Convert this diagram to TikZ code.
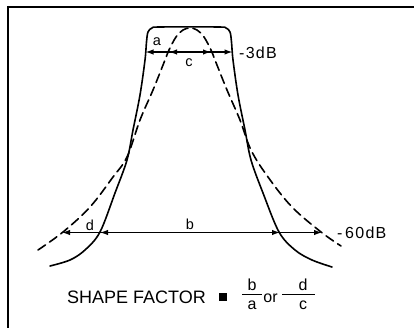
\documentclass[tikz,border=0pt]{standalone}
\usepackage{fontspec}
\setmainfont{Liberation Sans}
\usetikzlibrary{arrows.meta}
\begin{document}
\begin{tikzpicture}[x=1pt,y=-1pt,
  curve/.style={line width=1.6pt,line cap=round,line join=round},
  dcurve/.style={curve,dash pattern=on 9pt off 5pt},
  dim/.style={line width=1.4pt,{Latex[length=8pt,width=5.5pt]}-{Latex[length=8pt,width=5.5pt]}},
  lbl/.style={inner sep=0pt,font=\fontsize{14.5}{14.5}\selectfont},
  frac/.style={inner sep=0pt,font=\fontsize{16}{16}\selectfont},
  dblbl/.style={inner sep=0pt,font=\fontsize{16}{16}\selectfont\addfontfeature{LetterSpace=8}},
  big/.style={inner sep=0pt,font=\fontsize{18}{18}\selectfont}]
\useasboundingbox (0,0) rectangle (414,328);
% frame
\draw[line width=2.6pt] (8,7) -- (414,7);
\draw[line width=1.8pt] (8,6) -- (8,328);
% solid response
\draw[curve] plot[smooth,tension=0.55] coordinates {
 (50,266) (70,260) (85,250) (100,232) (115,193) (127,160) (133,130) (140,95) (145,60) (146.5,42)
 (148,32) (152,28) (160,27) (218,27) (226,28) (230,32) (231.5,42)
 (233,60) (238,95) (245,130) (251,160) (263,193) (279,232) (295,250) (312,260) (332,267)};
% dashed response
\draw[dcurve] plot[smooth,tension=0.6] coordinates {
 (38,250) (63,232) (90,207) (113,177) (127,157) (140,120) (153,90) (165,60) (169,50)
 (176,37) (183,30) (190,28) (197,30) (204,37) (211,50) (215,60) (227,90) (240,120)
 (251,150) (268,177) (292,207) (321,232) (341,246)};
% dimension points
\coordinate (aL) at (145.5,52);
\coordinate (aR) at (232.5,52);
\coordinate (cL) at (169,52);
\coordinate (cR) at (211,52);
\coordinate (dL) at (62,232.5);
\coordinate (dR) at (322,232.5);
\coordinate (bL) at (100,232.5);
\coordinate (bR) at (280,232.5);
\draw[dim] (aL) -- (aR);
\draw[dim] (cL) -- (cR);
\draw[dim] (dL) -- (dR);
\draw[dim] (bL) -- (bR);
% labels
\node[lbl] (la) at (157,42) {a};
\node[lbl] (lc) at (189,63) {c};
\node[lbl] (ld) at (90,225) {d};
\node[lbl] (lb) at (190,224) {b};
\node[dblbl,anchor=west] (l3) at (239,53) {-3dB};
\node[dblbl,anchor=west] (l60) at (337,233) {-\,60dB};
% shape factor
\node[big,anchor=west] (sf) at (67,297) {SHAPE FACTOR};
\node[fill=black,minimum size=7.5pt,inner sep=0pt] (sq) at (223,297) {};
\node[frac] (fb) at (252,284.5) {b};
\node[frac] (fa) at (252,305.5) {a};
\draw[line width=1pt] (242,294.5) -- (262,294.5);
\node[frac] (or) at (270.5,298) {or};
\node[frac] (fd) at (303,284.5) {d};
\node[frac] (fc) at (303,305.5) {c};
\draw[line width=1pt] (282,294.5) -- (315,294.5);
\end{tikzpicture}
\end{document}
